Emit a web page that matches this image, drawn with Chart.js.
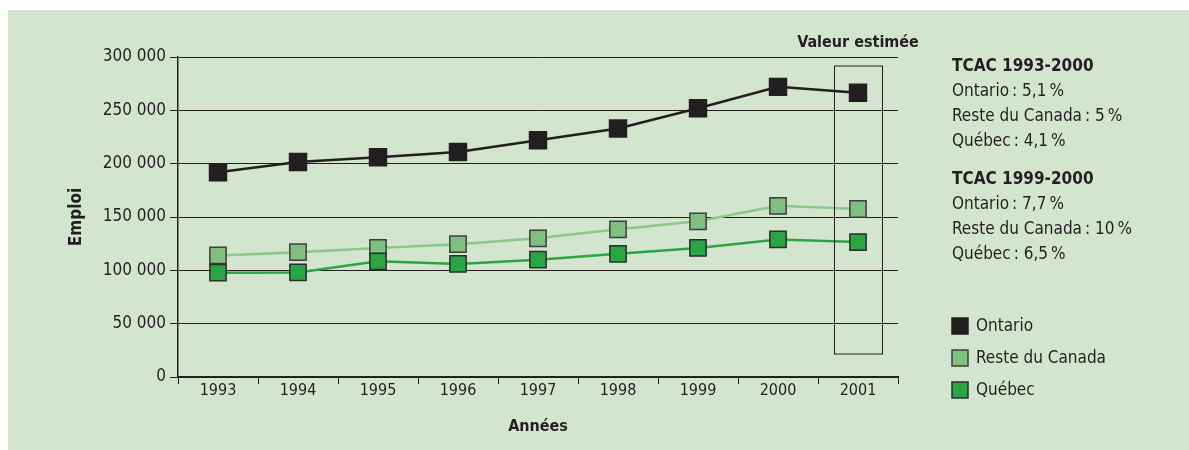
<!DOCTYPE html>
<html>
<head>
<meta charset="utf-8">
<script src="https://cdn.jsdelivr.net/npm/chart.js@4/dist/chart.umd.min.js"></script>
<style>
  html, body { margin: 0; padding: 0; background: #ffffff; }
  #wrap { position: relative; width: 1189px; height: 450px; }
  canvas { display: block; }
</style>
</head>
<body>
<div id="wrap"><canvas id="emploiChart" width="1189" height="450"></canvas></div>
<script>
// Data
const years = ['1993', '1994', '1995', '1996', '1997', '1998', '1999', '2000', '2001'];
const ontario = [192000, 201500, 206000, 211000, 222000, 233000, 252000, 272000, 266500];
const resteDuCanada = [114000, 117000, 121000, 124500, 130000, 138500, 146000, 160500, 157500];
const quebec = [97800, 98000, 108500, 106000, 110000, 115500, 121000, 129000, 126500];
const yTicks = [0, 50000, 100000, 150000, 200000, 250000, 300000];

const seriesNames = ['Ontario', 'Reste du Canada', 'Québec'];
const notes = [
    { title: 'TCAC 1993-2000', lines: ['Ontario\u2009: 5,1\u2009%', 'Reste du Canada\u2009: 5\u2009%', 'Québec\u2009: 4,1\u2009%'] },
    { title: 'TCAC 1999-2000', lines: ['Ontario\u2009: 7,7\u2009%', 'Reste du Canada\u2009: 10\u2009%', 'Québec\u2009: 6,5\u2009%'] }
];
const estimatedLabel = 'Valeur estimée';
const estimatedIndex = 8;

const font = "'Liberation Sans Narrow', 'DejaVu Sans Condensed', 'Open Sans', sans-serif";
const ink = '#231f20';
const bg = '#d3e5cf';

const colors = {
    ontario: { fill: '#231f20', line: '#231f20', border: '#231f20' },
    reste: { fill: '#7fbf7f', line: '#8cc88c', border: '#3d3d3d' },
    quebec: { fill: '#2ba444', line: '#2ba444', border: '#2d2d2d' }
};

// Format 300000 -> "300 000"
function formatNumber(v) {
    return String(v).replace(/\B(?=(\d{3})+(?!\d))/g, ' ');
}

// Green panel behind everything
const panelPlugin = {
    id: 'panel',
    beforeDraw(chart) {
        const c = chart.ctx;
        c.save();
        c.fillStyle = bg;
        c.fillRect(8, 10, chart.width - 8, chart.height - 10);
        c.restore();
    }
};

// Estimated-value box, notes and legend
const extrasPlugin = {
    id: 'extras',
    afterDatasetsDraw(chart) {
        const c = chart.ctx;
        const x = chart.scales.x;
        const y = chart.scales.y;
        const cx = x.getPixelForValue(estimatedIndex);
        c.save();

        // box around the estimated year
        c.strokeStyle = ink;
        c.lineWidth = 1;
        c.strokeRect(Math.round(cx - 24) + 0.5, y.getPixelForValue(292000) + 0.5, 48, y.getPixelForValue(22000) - y.getPixelForValue(292000));

        c.fillStyle = ink;
        c.textAlign = 'center';
        c.textBaseline = 'middle';
        c.font = 'bold 16px ' + font;
        c.fillText(estimatedLabel, cx, 43);

        // notes on the right
        c.textAlign = 'left';
        let ty = 67;
        notes.forEach(block => {
            c.font = 'bold 17px ' + font;
            c.fillText(block.title, 952, ty);
            ty += 25;
            c.font = '17px ' + font;
            block.lines.forEach(line => {
                c.fillText(line, 952, ty);
                ty += 25;
            });
            ty += 13;
        });

        // legend, in the series order
        seriesNames.forEach((name, i) => {
            const ds = chart.data.datasets.find(d => d.label === name);
            const ly = 326 + i * 32;
            c.fillStyle = ds.pointBackgroundColor;
            c.fillRect(952, ly - 8, 16, 16);
            c.strokeStyle = ds.pointBorderColor;
            c.lineWidth = 1.5;
            c.strokeRect(952, ly - 8, 16, 16);
            c.fillStyle = ink;
            c.font = '17px ' + font;
            c.fillText(ds.label, 976, ly + 1);
        });
        c.restore();
    }
};

function makeDataset(label, data, col, size) {
    return {
        label: label,
        data: data,
        borderColor: col.line,
        borderWidth: 2.5,
        pointStyle: 'rect',
        pointRadius: size,
        pointHoverRadius: size,
        pointBackgroundColor: col.fill,
        pointBorderColor: col.border,
        pointBorderWidth: 1.5,
        tension: 0
    };
}

new Chart(document.getElementById('emploiChart'), {
    type: 'line',
    data: {
        labels: years,
        // Québec drawn first, Ontario on top
        datasets: [
            makeDataset(seriesNames[2], quebec, colors.quebec, 11.5),
            makeDataset(seriesNames[1], resteDuCanada, colors.reste, 11.5),
            makeDataset(seriesNames[0], ontario, colors.ontario, 12)
        ]
    },
    options: {
        responsive: false,
        animation: false,
        layout: { padding: { left: 62, right: 291, top: 57, bottom: 10 } },
        plugins: {
            legend: { display: false },
            tooltip: { enabled: false }
        },
        scales: {
            x: {
                offset: true,
                grid: {
                    offset: true,
                    drawOnChartArea: false,
                    drawTicks: true,
                    tickLength: 7,
                    color: ink,
                    lineWidth: 1
                },
                border: { color: ink, width: 1.5 },
                ticks: { color: ink, font: { family: font, size: 16 }, padding: -3 },
                title: {
                    display: true,
                    text: 'Années',
                    color: ink,
                    font: { family: font, size: 16, weight: 'bold' },
                    padding: { top: 11 }
                },
                afterFit(scale) { scale.height = 63; }
            },
            y: {
                min: 0,
                max: 300000,
                afterBuildTicks(scale) { scale.ticks = yTicks.map(v => ({ value: v })); },
                grid: {
                    color: ink,
                    lineWidth: 1,
                    tickLength: 8
                },
                border: { color: ink, width: 1.5 },
                ticks: {
                    color: ink,
                    font: { family: font, size: 17 },
                    padding: 4,
                    callback: v => formatNumber(v)
                },
                title: {
                    display: true,
                    text: 'Emploi',
                    color: ink,
                    font: { family: font, size: 17, weight: 'bold' },
                    padding: { bottom: 14 }
                },
                afterFit(scale) { scale.width = 116; }
            }
        }
    },
    plugins: [panelPlugin, extrasPlugin]
});
</script>
</body>
</html>
